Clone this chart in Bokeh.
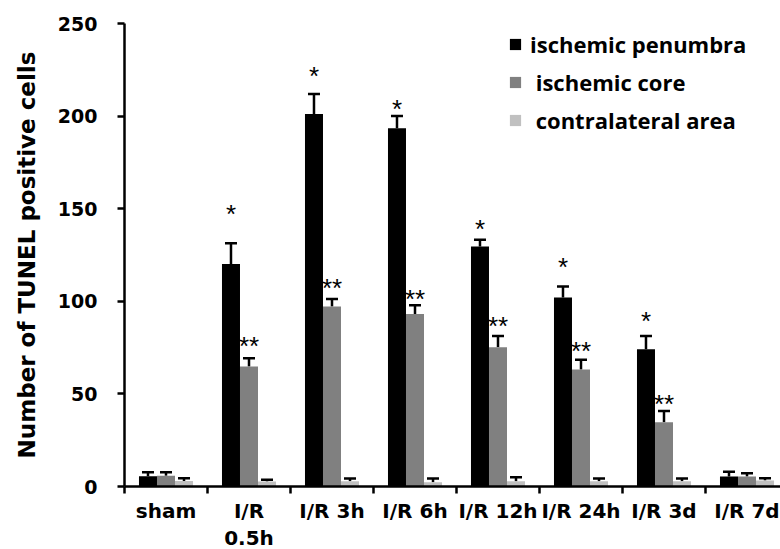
import numpy as np
from bokeh.plotting import figure
from bokeh.models import (ColumnDataSource, FixedTicker, Whisker, TeeHead, Legend, LegendItem, Range1d)
from bokeh.core.properties import value
from bokeh.embed import file_html
from bokeh.resources import INLINE

categories = ["sham", "I/R\n0.5h", "I/R 3h", "I/R 6h", "I/R 12h", "I/R 24h", "I/R 3d", "I/R 7d"]
penumbra = [5.6, 120.2, 201.2, 193.5, 129.6, 102.0, 74.1, 5.4]
penumbra_err = [2.1, 11.2, 10.8, 6.5, 3.7, 6.0, 7.1, 2.5]
core = [5.8, 64.8, 97.2, 93.2, 75.2, 63.2, 34.7, 5.4]
core_err = [1.9, 4.5, 4.1, 4.7, 6.0, 5.2, 6.0, 1.8]
contra = [3.0, 2.7, 2.9, 2.3, 2.9, 2.9, 2.9, 3.2]
contra_err = [1.4, 1.0, 1.4, 2.0, 2.1, 1.4, 1.4, 1.3]
penumbra_star_y = [np.nan, 149.7, 224.2, 206.6, 141.5, 121.1, 92.3, np.nan]
penumbra_star = ["", "*", "*", "*", "*", "*", "*", ""]
core_star_y = [np.nan, 78.8, 109.8, 103.7, 89.6, 75.6, 47.4, np.nan]
core_star = ["", "**", "**", "**", "**", "**", "**", ""]
series_names = ["ischemic penumbra", "\u00a0ischemic core", "\u00a0contralateral area"]
series_colors = ["#000000", "#808080", "#c0c0c0"]
y_ticks = [0, 50, 100, 150, 200, 250]

n = len(categories)
centers = np.arange(n) + 0.5
bar_w = 0.217
offsets = [-bar_w, 0.0, bar_w]

p = figure(frame_width=656, frame_height=463, output_backend="svg", toolbar_location=None,
           x_range=Range1d(0, 656 / 83.0), y_range=Range1d(0, 250),
           min_border_left=124, min_border_top=23, min_border_right=0, min_border_bottom=63)
p.outline_line_color = None
p.xgrid.visible = False
p.ygrid.visible = False
p.background_fill_color = "white"

renderers = []
for vals, errs, off, col in zip([penumbra, core, contra], [penumbra_err, core_err, contra_err], offsets, series_colors):
    src = ColumnDataSource(dict(x=centers + off, top=vals, upper=np.array(vals) + np.array(errs)))
    r = p.vbar(x="x", top="top", bottom=0, width=bar_w, source=src, fill_color=col, line_color=None)
    renderers.append(r)
    w = Whisker(base="x", lower="top", upper="upper", source=src, dimension="height",
                line_color="black", line_width=2.5,
                upper_head=TeeHead(size=12, line_color="black", line_width=2.5), lower_head=None)
    p.add_layout(w)

star_font = "Liberation Sans"
p.text(x=centers + offsets[0], y=penumbra_star_y, text=penumbra_star, text_align="center",
       text_baseline="middle", text_font=value(star_font), text_font_size="26px", y_offset=5,
       text_color="black")
p.text(x=centers + offsets[1], y=core_star_y, text=core_star, text_align="center",
       text_baseline="middle", text_font=value(star_font), text_font_size="26px", y_offset=5,
       text_color="black")

legend = Legend(items=[LegendItem(label=nm, renderers=[r]) for nm, r in zip(series_names, renderers)],
                location=(384, 351), orientation="vertical",
                glyph_width=14, glyph_height=14, label_height=30, spacing=8, label_standoff=8,
                padding=0, margin=0, border_line_color=None, background_fill_alpha=0,
                label_text_font="Open Sans", label_text_font_style="bold", label_text_font_size="22px",
                label_text_color="black")
p.add_layout(legend)

font = "DejaVu Sans"
# y axis
ya = p.yaxis[0]
ya.ticker = FixedTicker(ticks=y_ticks)
ya.axis_line_width = 2.5
ya.axis_line_color = "black"
ya.major_tick_line_width = 2.5
ya.major_tick_out = 7
ya.major_tick_in = 0
ya.minor_tick_line_color = None
ya.major_label_text_font = font
ya.major_label_text_font_style = "bold"
ya.major_label_text_font_size = "19px"
ya.major_label_text_color = "black"
ya.major_label_standoff = 20
ya.axis_label = "Number of TUNEL positive cells"
ya.axis_label_text_font = font
ya.axis_label_text_font_style = "bold"
ya.axis_label_text_font_size = "23px"
ya.axis_label_text_color = "black"
ya.axis_label_standoff = 15

# x axis
xa = p.xaxis[0]
xa.ticker = FixedTicker(ticks=list(centers), minor_ticks=list(range(n)))
xa.major_label_overrides = {float(c): lab for c, lab in zip(centers, categories)}
xa.axis_line_width = 2.5
xa.axis_line_color = "black"
xa.major_tick_line_color = None
xa.major_tick_out = 0
xa.major_tick_in = 0
xa.minor_tick_line_color = "black"
xa.minor_tick_line_width = 2.5
xa.minor_tick_out = 7
xa.minor_tick_in = 0
xa.major_label_text_font = font
xa.major_label_text_font_style = "bold"
xa.major_label_text_font_size = "20px"
xa.major_label_text_line_height = 1.15
xa.major_label_text_color = "black"
xa.major_label_standoff = 5

open("out.html", "w").write(file_html(p, INLINE))
